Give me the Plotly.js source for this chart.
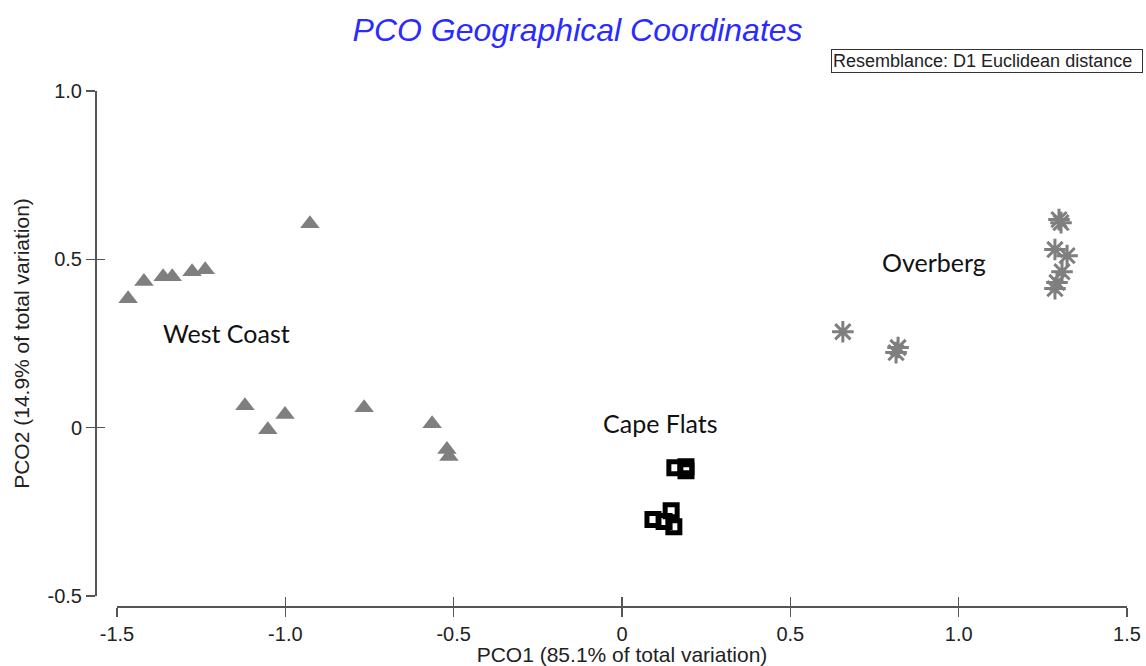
<!DOCTYPE html>
<html>
<head>
<meta charset="utf-8">
<script src="https://cdn.plot.ly/plotly-3.0.1.min.js"></script>
<style>html,body{margin:0;padding:0;background:#fff;}#chart{width:1146px;height:666px;}</style>
</head>
<body>
<div id="chart"></div>
<script>
// ---- data ----
const westCoastX = [-1.467, -1.420, -1.363, -1.336, -1.277, -1.238, -0.927, -1.120, -1.052, -1.001, -0.766, -0.564, -0.520, -0.514];
const westCoastY = [0.383, 0.434, 0.448, 0.448, 0.463, 0.469, 0.606, 0.065, -0.006, 0.039, 0.059, 0.012, -0.065, -0.086];

const capeFlatsX = [0.157, 0.190, 0.190, 0.092, 0.125, 0.146, 0.154];
const capeFlatsY = [-0.119, -0.116, -0.128, -0.273, -0.279, -0.247, -0.294];

const overbergX = [0.656, 0.814, 0.820, 1.298, 1.304, 1.286, 1.322, 1.307, 1.292, 1.286];
const overbergY = [0.285, 0.223, 0.238, 0.618, 0.609, 0.529, 0.511, 0.463, 0.431, 0.413];

const groupNames = ["West Coast", "Cape Flats", "Overberg"];
const groupLabelX = [-1.176, 0.113, 0.927];
const groupLabelY = [0.282, 0.015, 0.493];

const tickVals = [-1.5, -1.0, -0.5, 0, 0.5, 1.0, 1.5];
const tickTextX = ["-1.5", "-1.0", "-0.5", "0", "0.5", "1.0", "1.5"];
const yTickVals = [-0.5, 0, 0.5, 1.0];
const yTickText = ["-0.5", "0", "0.5", "1.0"];

const titleText = "PCO Geographical Coordinates";
const xTitle = "PCO1 (85.1% of total variation)";
const yTitle = "PCO2 (14.9% of total variation)";
const noteText = "Resemblance: D1 Euclidean distance";

// ---- traces ----
const gray = "#7f7f7f";
const traces = [
  {x: westCoastX, y: westCoastY, type: "scatter", mode: "markers", name: "West Coast",
   marker: {symbol: "triangle-up", size: 17, color: gray, line: {width: 0}}},
  {x: capeFlatsX, y: capeFlatsY, type: "scatter", mode: "markers", name: "Cape Flats",
   marker: {symbol: "square-open", size: 12, color: "#000", line: {width: 5, color: "#000"}}},
  {x: overbergX, y: overbergY, type: "scatter", mode: "markers", name: "Overberg",
   marker: {symbol: "asterisk-open", size: 18, color: gray, line: {width: 3, color: gray}}},
  // helper trace to carry the inward halves of the ticks
  {x: [null], y: [null], xaxis: "x2", yaxis: "y2", type: "scatter", mode: "markers", showlegend: false, hoverinfo: "skip"}
];

const axisCol = "#555";
const tickFont = {family: "Liberation Sans, Arial, sans-serif", size: 20, color: "#222"};
const titleFont = {family: "Liberation Sans, Arial, sans-serif", size: 21, color: "#222"};
const xDom = [22/1032, 1];
const yDom = [10/515, 1];

const annotations = groupNames.map((t, i) => ({
  x: groupLabelX[i], y: groupLabelY[i], xref: "x", yref: "y", text: t, showarrow: false,
  xanchor: "center", yanchor: "middle",
  font: {family: "Lato, 'Open Sans', sans-serif", size: 25, color: "#111"}
}));
annotations.push({
  x: 736/1032, y: 1.058, xref: "paper", yref: "paper", text: noteText, showarrow: false,
  xanchor: "left", yanchor: "middle", align: "left", width: 308, height: 20,
  bordercolor: "#333", borderwidth: 1, borderpad: 1, bgcolor: "#fff",
  font: {family: "Liberation Sans, Arial, sans-serif", size: 18, color: "#222"}
});

const layout = {
  width: 1146, height: 666,
  margin: {l: 95, r: 19, t: 91, b: 60, pad: 0},
  paper_bgcolor: "#fff", plot_bgcolor: "#fff",
  showlegend: false, hovermode: false,
  title: {text: titleText, x: 0.504, xref: "container", xanchor: "center", y: 0.955, yanchor: "middle",
          font: {family: "Liberation Sans, Arial, sans-serif", size: 32, color: "#2b2bff", style: "italic"}},
  xaxis: {domain: xDom, range: [-1.5, 1.5], anchor: "free", position: 0,
          showline: true, linecolor: axisCol, linewidth: 1.5, zeroline: false, showgrid: false,
          ticks: "outside", ticklen: 9, tickwidth: 1.5, tickcolor: axisCol,
          tickvals: tickVals, ticktext: tickTextX, tickfont: tickFont,
          title: {text: xTitle, font: titleFont, standoff: 4}},
  yaxis: {domain: yDom, range: [-0.5, 1.0], anchor: "free", position: 0,
          showline: true, linecolor: axisCol, linewidth: 1.5, zeroline: false, showgrid: false,
          ticks: "outside", ticklen: 9, tickwidth: 1.5, tickcolor: axisCol,
          tickvals: yTickVals, ticktext: yTickText, tickfont: tickFont,
          title: {text: yTitle, font: titleFont, standoff: 10}},
  xaxis2: {domain: xDom, range: [-1.5, 1.5], anchor: "free", position: 0, overlaying: "x",
           showline: false, zeroline: false, showgrid: false, showticklabels: false,
           ticks: "inside", ticklen: 9, tickwidth: 1.5, tickcolor: axisCol, tickvals: tickVals},
  yaxis2: {domain: yDom, range: [-0.5, 1.0], anchor: "free", position: 0, overlaying: "y",
           showline: false, zeroline: false, showgrid: false, showticklabels: false,
           ticks: "inside", ticklen: 9, tickwidth: 1.5, tickcolor: axisCol, tickvals: yTickVals},
  annotations: annotations
};

Plotly.newPlot("chart", traces, layout, {displayModeBar: false, staticPlot: true});
</script>
</body>
</html>
